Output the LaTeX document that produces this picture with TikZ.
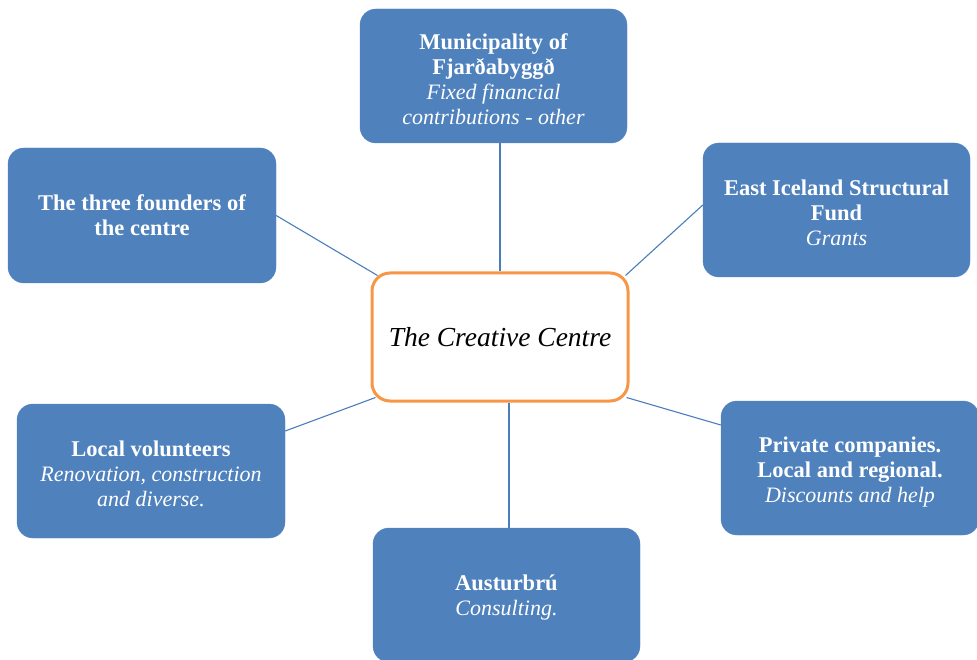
\documentclass[tikz,border=0pt]{standalone}
\usepackage{fontspec}
\setmainfont{Liberation Serif}
\usetikzlibrary{calc}
\definecolor{boxblue}{HTML}{4F81BD}
\definecolor{linkblue}{HTML}{4A7EBB}
\definecolor{ctrorange}{HTML}{F79646}
\newcommand{\boxhead}[1]{{\fontsize{22.5}{25}\selectfont\bfseries #1}}
\newcommand{\boxsub}[1]{{\fontsize{22}{25}\selectfont\itshape #1}}
\begin{document}
\begin{tikzpicture}[x=1pt,y=-1pt,
  bluebox/.style={rectangle, rounded corners=16pt, fill=boxblue, draw=boxblue,
    inner sep=0pt},
  boxtext/.style={text=white, align=center, inner sep=0pt, yshift=-3pt,
    font=\fontsize{22}{25}\selectfont},
  centrebox/.style={rectangle, rounded corners=18pt, fill=white, draw=ctrorange,
    line width=3pt, align=center, minimum width=256pt, minimum height=128pt,
    font=\fontsize{27.5}{30}\selectfont\itshape},
  link/.style={draw=linkblue, line width=1.1pt}]
\useasboundingbox (0,0) rectangle (977,660);
\node[bluebox, minimum width=267pt, minimum height=134pt,
  label={[boxtext]center:{\boxhead{Municipality of}\\\boxhead{Fjarðabyggð}\\\boxsub{Fixed financial}\\\boxsub{contributions - other}}}]
  (top) at (493.5,76) {};
\node[bluebox, minimum width=268pt, minimum height=135pt,
  label={[boxtext,yshift=3pt]center:{\boxhead{The three founders of}\\\boxhead{the centre}}}]
  (lt) at (142,215.5) {};
\node[bluebox, minimum width=267pt, minimum height=134pt,
  label={[boxtext]center:{\boxhead{East Iceland Structural}\\\boxhead{Fund}\\\boxsub{Grants}}}]
  (rt) at (836.5,210) {};
\node[centrebox] (c) at (500,337) {The Creative Centre};
\node[bluebox, minimum width=268pt, minimum height=134pt,
  label={[boxtext]center:{\boxhead{Local volunteers}\\\boxsub{Renovation, construction}\\\boxsub{and diverse.}}}]
  (lb) at (151,471) {};
\node[bluebox, minimum width=258pt, minimum height=134pt,
  label={[boxtext,yshift=-1pt]center:{\boxhead{Private companies.}\\\boxhead{Local and regional.}\\\boxsub{Discounts and help}}}]
  (rb) at (850,468) {};
\node[bluebox, minimum width=267pt, minimum height=134pt,
  label={[boxtext]center:{\boxhead{Austurbrú}\\\boxsub{Consulting.}}}]
  (b) at (506.5,595) {};
\draw[link] (c.north |- top.south) -- (c.north);
\draw[link] (lt.east) -- ([shift={(7,4)}]c.north west);
\draw[link] ([shift={(0,-5)}]rt.west) -- ([shift={(-4,4)}]c.north east);
\draw[link] ([shift={(0,-40)}]lb.east) -- ([shift={(5,-5)}]c.south west);
\draw[link] ([shift={(0,-43)}]rb.west) -- ([shift={(-3,-5)}]c.south east);
\draw[link] ([xshift=9pt]c.south) -- ([xshift=9pt]c.south |- b.north);
\end{tikzpicture}
\end{document}
